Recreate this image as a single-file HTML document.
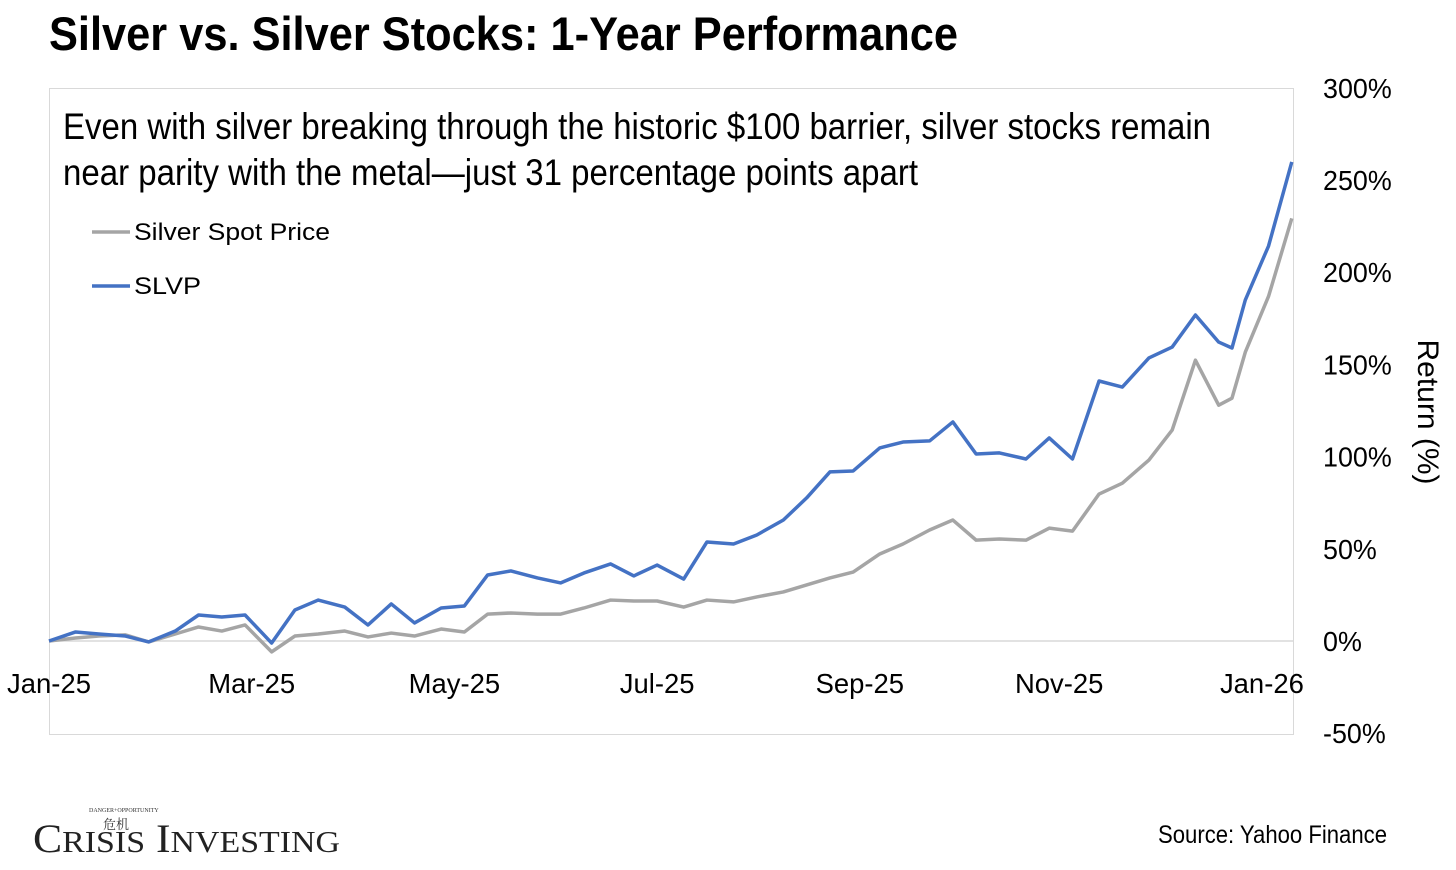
<!DOCTYPE html>
<html><head><meta charset="utf-8">
<style>
body{margin:0;background:#fff;width:1456px;height:870px;overflow:hidden}
svg{display:block}
.n{font-family:"Liberation Sans Narrow","Liberation Sans",sans-serif}
</style></head>
<body>
<svg id="chart" width="1456" height="870">
<text x="49" y="50" class="n" font-size="47" font-weight="bold" fill="#000" textLength="909" lengthAdjust="spacingAndGlyphs">Silver vs. Silver Stocks: 1-Year Performance</text>
<rect x="49.5" y="88.5" width="1244" height="646" fill="none" stroke="#d9d9d9" stroke-width="1"/>
<text x="63" y="139" class="n" font-size="37" fill="#000" textLength="1148" lengthAdjust="spacingAndGlyphs">Even with silver breaking through the historic $100 barrier, silver stocks remain</text>
<text x="63" y="185" class="n" font-size="37" fill="#000" textLength="855" lengthAdjust="spacingAndGlyphs">near parity with the metal—just 31 percentage points apart</text>
<line x1="92" y1="232" x2="130" y2="232" stroke="#A5A5A5" stroke-width="3.5"/>
<text x="134" y="240" font-family="Liberation Sans,sans-serif" font-size="24" textLength="196" lengthAdjust="spacingAndGlyphs">Silver Spot Price</text>
<line x1="92" y1="286" x2="130" y2="286" stroke="#4472C4" stroke-width="3.5"/>
<text x="134" y="294" font-family="Liberation Sans,sans-serif" font-size="24" textLength="67" lengthAdjust="spacingAndGlyphs">SLVP</text>
<g id="axes"></g>
<g id="series"></g>
<text transform="translate(1418,412) rotate(90)" text-anchor="middle" class="n" font-size="30" textLength="145" lengthAdjust="spacingAndGlyphs">Return (%)</text>
<text x="33" y="852" font-family="Liberation Serif,serif" font-size="40" fill="#222" textLength="307" lengthAdjust="spacingAndGlyphs">C<tspan font-size="31">RISIS</tspan> I<tspan font-size="31">NVESTING</tspan></text>
<text x="89" y="812" font-family="Liberation Serif,serif" font-size="6" fill="#333">DANGER+OPPORTUNITY</text>
<text x="103" y="829" font-family="Liberation Serif,'Noto Serif CJK SC',serif" font-size="13" fill="#333">危机</text>
<text x="1387" y="843" text-anchor="end" class="n" font-size="25" textLength="229" lengthAdjust="spacingAndGlyphs">Source: Yahoo Finance</text>
</svg>
<script>
const days=[0,8,15,23,30,38,45,52,59,67,74,81,89,96,103,110,118,125,132,139,147,154,161,169,176,183,191,198,206,213,221,228,235,242,250,257,265,272,279,286,294,301,308,316,323,331,338,345,352,356,360,367,374];
const slvp=[0,4.9,3.8,2.7,-0.5,5.4,14.1,13,14.1,-1.1,16.8,22.2,18.4,8.7,20.1,9.8,17.9,19,35.8,38,34.2,31.5,36.9,41.8,35.3,41.2,33.6,53.7,52.6,57.5,65.6,77.6,91.7,92.2,104.7,107.9,108.5,118.8,101.4,102,98.7,110.1,98.7,141,137.7,153.5,159.4,176.8,162.1,158.9,184.9,214.2,259.8];
const silver=[0,1.6,2.7,3.3,-0.5,3.8,7.6,5.4,8.7,-5.9,2.7,3.8,5.4,2.2,4.3,2.7,6.5,4.9,14.6,15.2,14.6,14.6,17.9,22.2,21.7,21.7,18.4,22.2,21.2,23.9,26.6,30.4,34.2,37.4,47.2,52.6,60.2,65.6,54.7,55.3,54.7,61.2,59.6,79.7,85.6,98.1,114.4,152.3,127.9,131.7,156.6,186.9,229.2];
const yTicks=[300,250,200,150,100,50,0,-50];
const xTickLabels=["Jan-25","Mar-25","May-25","Jul-25","Sep-25","Nov-25","Jan-26"];
const xTickDays=[0,61,122,183,244,304,365];
const NS="http://www.w3.org/2000/svg";
const xS=d=>49+d*3.323;
const yS=v=>641-v*1.844;
const axes=document.getElementById('axes'),ser=document.getElementById('series');
function mk(tag,attrs,parent){const e=document.createElementNS(NS,tag);for(const k in attrs)e.setAttribute(k,attrs[k]);parent.appendChild(e);return e;}
const zl=mk('line',{x1:49,x2:1293,y1:yS(0),y2:yS(0),stroke:'#d9d9d9','stroke-width':1.5},axes);


yTicks.forEach(v=>{const t=mk('text',{'font-size':28,class:'n',transform:'translate(1323,'+(yS(v)+10)+') scale(0.96,1)'},axes);t.textContent=v+'%';

});
xTickLabels.forEach((l,i)=>{const t=mk('text',{'font-size':28,'text-anchor':'middle',class:'n',transform:'translate('+xS(xTickDays[i])+',693) scale(0.98,1)'},axes);t.textContent=l;

});
function line(vals,color,name){const p=mk('polyline',{points:vals.map((v,i)=>xS(days[i])+','+yS(v)).join(' '),fill:'none',stroke:color,'stroke-width':3.5,'stroke-linejoin':'round'},ser);

}
line(silver,'#A5A5A5','silver-spot-line');
line(slvp,'#4472C4','slvp-line');
</script>
</body></html>
